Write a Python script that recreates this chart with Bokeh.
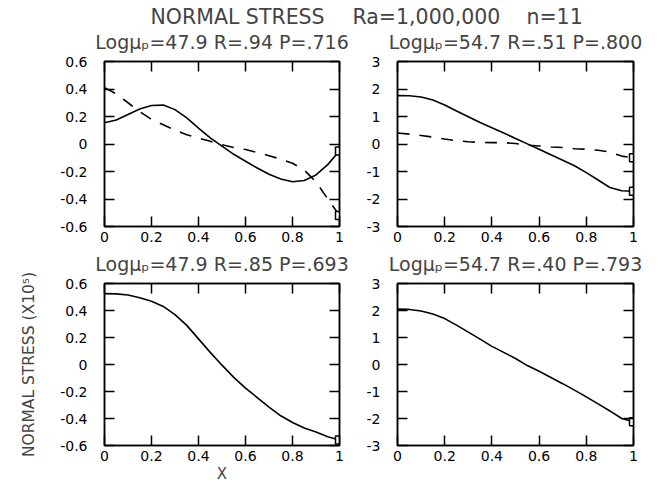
from bokeh.plotting import figure
from bokeh.models import Range1d, LinearAxis, FixedTicker, Title, CustomLabelingPolicy
from bokeh.layouts import column, row
from bokeh.embed import file_html
from bokeh.resources import INLINE

FONT = "DejaVu Sans"
NB = "\u00a0"

# ---------------- data ----------------
x_pts = [0.0, 0.05, 0.1, 0.15, 0.2, 0.25, 0.3, 0.35, 0.4, 0.45, 0.5,
         0.55, 0.6, 0.65, 0.7, 0.75, 0.8, 0.85, 0.9, 0.95, 1.0]

tl_solid = [0.155, 0.175, 0.215, 0.255, 0.28, 0.283, 0.25, 0.19, 0.115, 0.045, -0.015,
            -0.075, -0.125, -0.175, -0.22, -0.255, -0.275, -0.265, -0.225, -0.15, -0.05]
tl_dashed = [0.41, 0.365, 0.30, 0.235, 0.18, 0.14, 0.10, 0.068, 0.042, 0.02, -0.005,
             -0.025, -0.04, -0.062, -0.085, -0.11, -0.14, -0.19, -0.275, -0.40, -0.52]
tr_solid = [1.76, 1.755, 1.71, 1.60, 1.42, 1.20, 0.99, 0.78, 0.59, 0.40, 0.20,
            0.005, -0.19, -0.39, -0.59, -0.79, -1.04, -1.31, -1.58, -1.70, -1.72]
tr_dashed = [0.40, 0.36, 0.31, 0.25, 0.18, 0.12, 0.08, 0.062, 0.05, 0.048, 0.02,
             -0.04, -0.07, -0.11, -0.13, -0.17, -0.19, -0.23, -0.29, -0.44, -0.50]
bl_solid = [0.525, 0.523, 0.515, 0.495, 0.468, 0.43, 0.37, 0.29, 0.19, 0.09, -0.005,
            -0.095, -0.175, -0.245, -0.315, -0.38, -0.43, -0.47, -0.50, -0.535, -0.56]
br_solid = [2.05, 2.04, 1.98, 1.87, 1.70, 1.46, 1.20, 0.94, 0.67, 0.45, 0.22,
            -0.04, -0.25, -0.48, -0.71, -0.95, -1.20, -1.46, -1.72, -2.00, -2.12]

end_x = 1.0
tl_marks = [-0.05, -0.52]
tr_marks = [-0.50, -1.72]
bl_marks = [-0.56]
br_marks = [-2.12]

x_ticks = [0, 0.2, 0.4, 0.6, 0.8, 1]
x_tick_labels = ["0", "0.2", "0.4", "0.6", "0.8", "1"]
y_ticks_small = [-0.6, -0.4, -0.2, 0, 0.2, 0.4, 0.6]
y_labels_small = ["-0.6", "-0.4", "-0.2", "0", "0.2", "0.4", "0.6"]
y_ticks_big = [-3, -2, -1, 0, 1, 2, 3]
y_labels_big = ["-3", "-2", "-1", "0", "1", "2", "3"]

main_title_left = "NORMAL STRESS"
main_title_right = "Ra=1,000,000" + NB * 4 + "n=11"
subtitles = ["Log\u03bc\u209a=47.9 R=.94 P=.716",
             "Log\u03bc\u209a=54.7 R=.51 P=.800",
             "Log\u03bc\u209a=47.9 R=.85 P=.693",
             "Log\u03bc\u209a=54.7 R=.40 P=.793"]
y_axis_title = "NORMAL STRESS (X10\u2075)"
x_axis_title = "X"


def style_axis(ax, show_labels):
    ax.major_tick_in = 10
    ax.major_tick_out = 0
    ax.minor_tick_in = 0
    ax.minor_tick_out = 0
    ax.axis_line_color = "black"
    ax.axis_line_width = 1.5
    ax.major_tick_line_width = 1.5
    ax.major_tick_line_color = "black"
    if show_labels:
        ax.major_label_text_font = FONT
        ax.major_label_text_font_size = "14px"
        ax.major_label_text_color = "black"
    else:
        ax.major_label_text_font_size = "1px"
        ax.major_label_standoff = 0
        ax.major_label_policy = CustomLabelingPolicy(code="return []")


def make_panel(width, height, bl, br, bt, bb, ylo, yhi, yticks, ylabels,
               subtitle, xlabel=None, ylabel=None, main=None, main_offset=0):
    p = figure(width=width, height=height, x_range=Range1d(0, 1),
               y_range=Range1d(ylo, yhi), min_border_left=bl, min_border_right=br,
               min_border_top=bt, min_border_bottom=bb, toolbar_location=None,
               output_backend="svg", title=main if main else "")
    p.grid.visible = False
    p.outline_line_color = "black"
    p.outline_line_width = 1.5
    p.background_fill_color = "white"
    p.border_fill_color = "white"

    xa = p.xaxis[0]
    xa.ticker = FixedTicker(ticks=x_ticks)
    xa.major_label_overrides = dict(zip(x_ticks, x_tick_labels))
    style_axis(xa, True)
    xa.major_label_standoff = 5
    ya = p.yaxis[0]
    ya.ticker = FixedTicker(ticks=yticks)
    ya.major_label_overrides = dict(zip(yticks, ylabels))
    style_axis(ya, True)
    ya.major_label_standoff = 17
    if xlabel:
        xa.axis_label = xlabel
        xa.axis_label_text_font = FONT
        xa.axis_label_text_font_size = "15px"
        xa.axis_label_text_font_style = "normal"
        xa.axis_label_standoff = 1
    if ylabel:
        ya.axis_label = ylabel
        ya.axis_label_text_font = FONT
        ya.axis_label_text_font_size = "15.5px"
        ya.axis_label_text_font_style = "normal"
        ya.axis_label_standoff = 19

    top = LinearAxis(ticker=FixedTicker(ticks=x_ticks))
    style_axis(top, False)
    p.add_layout(top, "above")
    right = LinearAxis(ticker=FixedTicker(ticks=yticks))
    style_axis(right, False)
    p.add_layout(right, "right")

    sub = Title(text=subtitle, align="center", vertical_align="top", text_font=FONT,
                text_font_size="19px", text_font_style="normal", standoff=5)
    p.add_layout(sub, "above")

    if main:
        p.title.text_font = FONT
        p.title.text_font_size = "20.5px"
        p.title.text_font_style = "normal"
        p.title.align = "left"
        p.title.offset = main_offset
        p.title.standoff = 0
    else:
        p.title.visible = False
    return p


def add_curves(p, solid, dashed, marks):
    p.line(x_pts, solid, line_color="black", line_width=1.6)
    if dashed is not None:
        p.line(x_pts, dashed, line_color="black", line_width=1.6, line_dash="12 10")
    p.scatter([end_x] * len(marks), marks, marker="square", size=8,
              fill_color="white", line_color="black", line_width=1.5)


LW, RW = 351, 308
TH, BH = 250, 237

tl = make_panel(LW, TH, 104, 12, 61, 24, -0.6, 0.6, y_ticks_small, y_labels_small,
                subtitles[0], main=main_title_left, main_offset=46)
tr = make_panel(RW, TH, 46, 26, 61, 24, -3, 3, y_ticks_big, y_labels_big,
                subtitles[1], main=main_title_right, main_offset=-45)
bl = make_panel(LW, BH, 104, 12, 32, 42, -0.6, 0.6, y_ticks_small, y_labels_small,
                subtitles[2], xlabel=x_axis_title, ylabel=y_axis_title)
br = make_panel(RW, BH, 46, 26, 32, 42, -3, 3, y_ticks_big, y_labels_big, subtitles[3])

add_curves(tl, tl_solid, tl_dashed, tl_marks)
add_curves(tr, tr_solid, tr_dashed, tr_marks)
add_curves(bl, bl_solid, None, bl_marks)
add_curves(br, br_solid, None, br_marks)

layout = column(row(tl, tr), row(bl, br))

open("out.html", "w").write(file_html(layout, INLINE))
